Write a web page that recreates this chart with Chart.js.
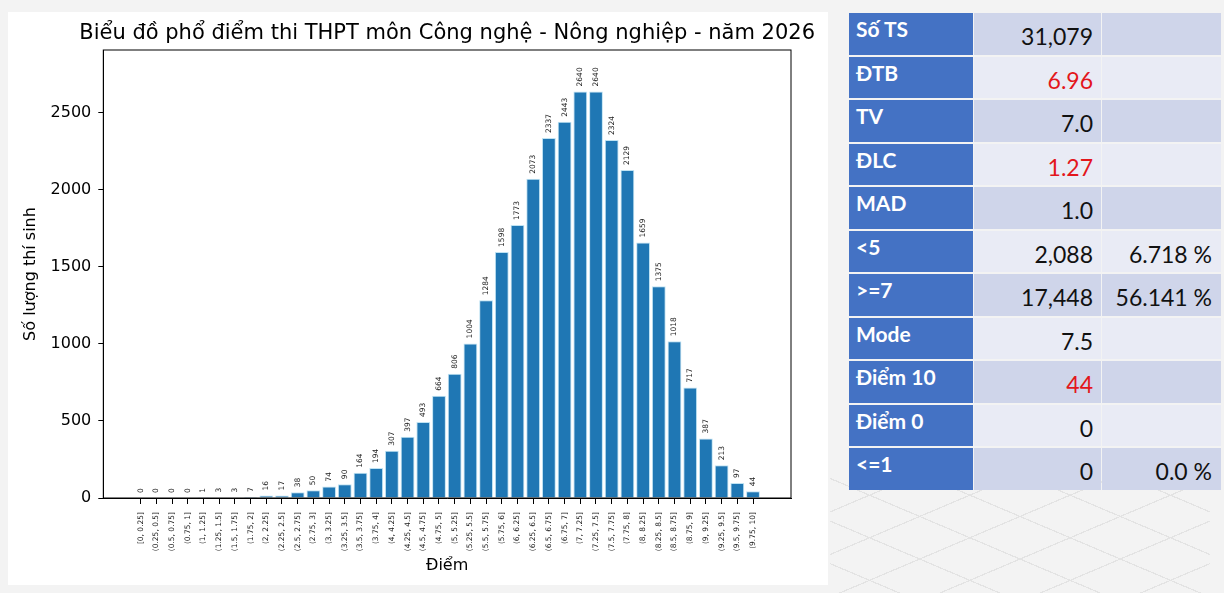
<!DOCTYPE html>
<html>
<head>
<meta charset="utf-8">
<title>Phổ điểm Công nghệ - Nông nghiệp 2026</title>
<script src="https://cdn.jsdelivr.net/npm/chart.js@4.4.1/dist/chart.umd.min.js"></script>
<style>
  html, body { margin: 0; padding: 0; }
  body { width: 1224px; height: 593px; background: #f3f3f3; position: relative; overflow: hidden; }
  #deco { position: absolute; left: 830px; top: 470px; width: 380px; height: 123px;
          background:
            repeating-linear-gradient(157deg, transparent 0 38px, #e3e3e3 38px 39.2px),
            repeating-linear-gradient(203deg, transparent 0 38px, #e3e3e3 38px 39.2px); }
  #panel { position: absolute; left: 8px; top: 12px; width: 820px; height: 573px; background: #fff; }
  #panel canvas { display: block; }
  #stats { position: absolute; left: 849px; top: 13px; display: grid;
           grid-template-columns: 124px 127px 119px; grid-auto-rows: 41.5px;
           column-gap: 1px; row-gap: 2px; }
  #stats div { box-sizing: border-box; font-family: Lato, "Noto Sans", sans-serif; color: #111; }
  #stats .lab { background: #4472c4; color: #fff; font-weight: bold; font-size: 21px;
                line-height: 21px; padding: 5px 0 0 7px; }
  #stats .val { text-align: right; font-size: 23px; line-height: 23px; padding: 12px 8px 0 0; }
  #stats .pct { text-align: right; font-size: 23px; line-height: 23px; padding: 12px 9px 0 0; }
  #stats .dark { background: #cfd5ea; }
  #stats .light { background: #e9ebf5; }
  #stats .red { color: #e3161c; }
</style>
</head>
<body>
<div id="deco"></div>
<div id="panel"><canvas id="mycanvas" width="820" height="573"></canvas></div>
<div id="stats"></div>

<script>
// score bins and number of candidates per bin
var bins = ['[0, 0.25]', '(0.25, 0.5]', '(0.5, 0.75]', '(0.75, 1]', '(1, 1.25]', '(1.25, 1.5]',
  '(1.5, 1.75]', '(1.75, 2]', '(2, 2.25]', '(2.25, 2.5]', '(2.5, 2.75]', '(2.75, 3]',
  '(3, 3.25]', '(3.25, 3.5]', '(3.5, 3.75]', '(3.75, 4]', '(4, 4.25]', '(4.25, 4.5]',
  '(4.5, 4.75]', '(4.75, 5]', '(5, 5.25]', '(5.25, 5.5]', '(5.5, 5.75]', '(5.75, 6]',
  '(6, 6.25]', '(6.25, 6.5]', '(6.5, 6.75]', '(6.75, 7]', '(7, 7.25]', '(7.25, 7.5]',
  '(7.5, 7.75]', '(7.75, 8]', '(8, 8.25]', '(8.25, 8.5]', '(8.5, 8.75]', '(8.75, 9]',
  '(9, 9.25]', '(9.25, 9.5]', '(9.5, 9.75]', '(9.75, 10]'];
var counts = [0, 0, 0, 0, 1, 3, 3, 7, 16, 17, 38, 50, 74, 90, 164, 194, 307, 397, 493, 664,
  806, 1004, 1284, 1598, 1773, 2073, 2337, 2443, 2640, 2640, 2324, 2129, 1659, 1375, 1018,
  717, 387, 213, 97, 44];
var yTicks = [0, 500, 1000, 1500, 2000, 2500];
var chartTitle = 'Biểu đồ phổ điểm thi THPT môn Công nghệ - Nông nghiệp - năm 2026';

// summary table
var statLabels = ['Số TS', 'ĐTB', 'TV', 'ĐLC', 'MAD', '<5', '>=7', 'Mode', 'Điểm 10', 'Điểm 0', '<=1'];
var statValues = ['31,079', '6.96', '7.0', '1.27', '1.0', '2,088', '17,448', '7.5', '44', '0', '0'];
var statPercents = ['', '', '', '', '', '6.718 %', '56.141 %', '', '', '', '0.0 %'];
var statRed = ['ĐTB', 'ĐLC', 'Điểm 10'];

var stats = document.getElementById('stats');
for (var i = 0; i < statLabels.length; i++) {
  var shade = (i % 2 === 0) ? 'dark' : 'light';
  var a = document.createElement('div');
  a.className = 'lab';
  a.textContent = statLabels[i];
  var b = document.createElement('div');
  b.className = 'val ' + shade + (statRed.indexOf(statLabels[i]) >= 0 ? ' red' : '');
  b.textContent = statValues[i];
  var c = document.createElement('div');
  c.className = 'pct ' + shade;
  c.textContent = statPercents[i];
  stats.appendChild(a); stats.appendChild(b); stats.appendChild(c);
}

var points = [];
for (var j = 0; j < counts.length; j++) {
  points.push({ x: j, y: counts[j] });
}

// black box around the plot, like matplotlib, and the title centred over it
// (the built-in title squeezes text wider than the plot)
var frame = {
  id: 'frame',
  afterDraw: function(chart) {
    var a = chart.chartArea, ctx = chart.ctx;
    ctx.save();
    ctx.strokeStyle = '#000';
    ctx.lineWidth = 1;
    ctx.strokeRect(a.left, a.top, a.right - a.left, a.bottom - a.top);
    ctx.font = '21px "DejaVu Sans"';
    ctx.fillStyle = '#000';
    ctx.textAlign = 'center';
    ctx.textBaseline = 'middle';
    ctx.fillText(chartTitle, (a.left + a.right) / 2, a.top - 16);
    ctx.restore();
  }
};

// rotated value on top of every bar
var barValues = {
  id: 'barValues',
  afterDatasetsDraw: function(chart) {
    var ctx = chart.ctx;
    var meta = chart.getDatasetMeta(0);
    ctx.save();
    ctx.font = '7.5px "DejaVu Sans"';
    ctx.fillStyle = '#222';
    ctx.textAlign = 'left';
    ctx.textBaseline = 'middle';
    meta.data.forEach(function(bar, k) {
      ctx.save();
      ctx.translate(bar.x, bar.y - 5);
      ctx.rotate(-Math.PI / 2);
      ctx.fillText(String(counts[k]), 0, 0);
      ctx.restore();
    });
    ctx.restore();
  }
};

var ctx = document.getElementById('mycanvas');
var barGraph = new Chart(ctx, {
  type: 'bar',
  data: {
    datasets: [{
      label: 'Số lượng thí sinh',
      data: points,
      backgroundColor: '#1f77b4',
      borderColor: '#bfe3f3',
      borderWidth: 1,
      barPercentage: 0.88,
      categoryPercentage: 1
    }]
  },
  options: {
    responsive: false,
    animation: false,
    layout: { padding: { left: 0, right: 37, top: 38, bottom: 0 } },
    plugins: {
      legend: { display: false },
      tooltip: { enabled: false },
      title: { display: false }
    },
    scales: {
      x: {
        type: 'linear',
        min: -2.38,
        max: 41.42,
        offset: false,
        afterBuildTicks: function(scale) {
          scale.ticks = bins.map(function(_, k) { return { value: k }; });
        },
        afterFit: function(scale) { scale.height = 87; },
        ticks: {
          autoSkip: false,
          minRotation: 90,
          maxRotation: 90,
          padding: 8,
          color: '#222',
          font: { family: 'DejaVu Sans', size: 7.5 },
          callback: function(v) { return bins[v]; }
        },
        grid: { drawOnChartArea: false, drawTicks: true, tickLength: 6, color: '#000', offset: false },
        border: { display: true, color: '#000' },
        title: {
          display: true,
          text: 'Điểm',
          color: '#000',
          font: { family: 'DejaVu Sans', size: 16 },
          padding: { top: 10, bottom: 10 }
        }
      },
      y: {
        min: 0,
        max: 2909,
        afterBuildTicks: function(scale) {
          scale.ticks = yTicks.map(function(v) { return { value: v }; });
        },
        afterFit: function(scale) { scale.width = 95.3; },
        ticks: {
          padding: 7,
          color: '#000',
          font: { family: 'DejaVu Sans', size: 16 },
          callback: function(v) { return String(v); }
        },
        grid: { drawOnChartArea: false, drawTicks: true, tickLength: 5, color: '#000' },
        border: { display: true, color: '#000' },
        title: {
          display: true,
          text: 'Số lượng thí sinh',
          color: '#000',
          font: { family: 'DejaVu Sans', size: 16 },
          padding: { top: 13, bottom: 0 }
        }
      }
    }
  },
  plugins: [frame, barValues]
});
</script>
</body>
</html>
